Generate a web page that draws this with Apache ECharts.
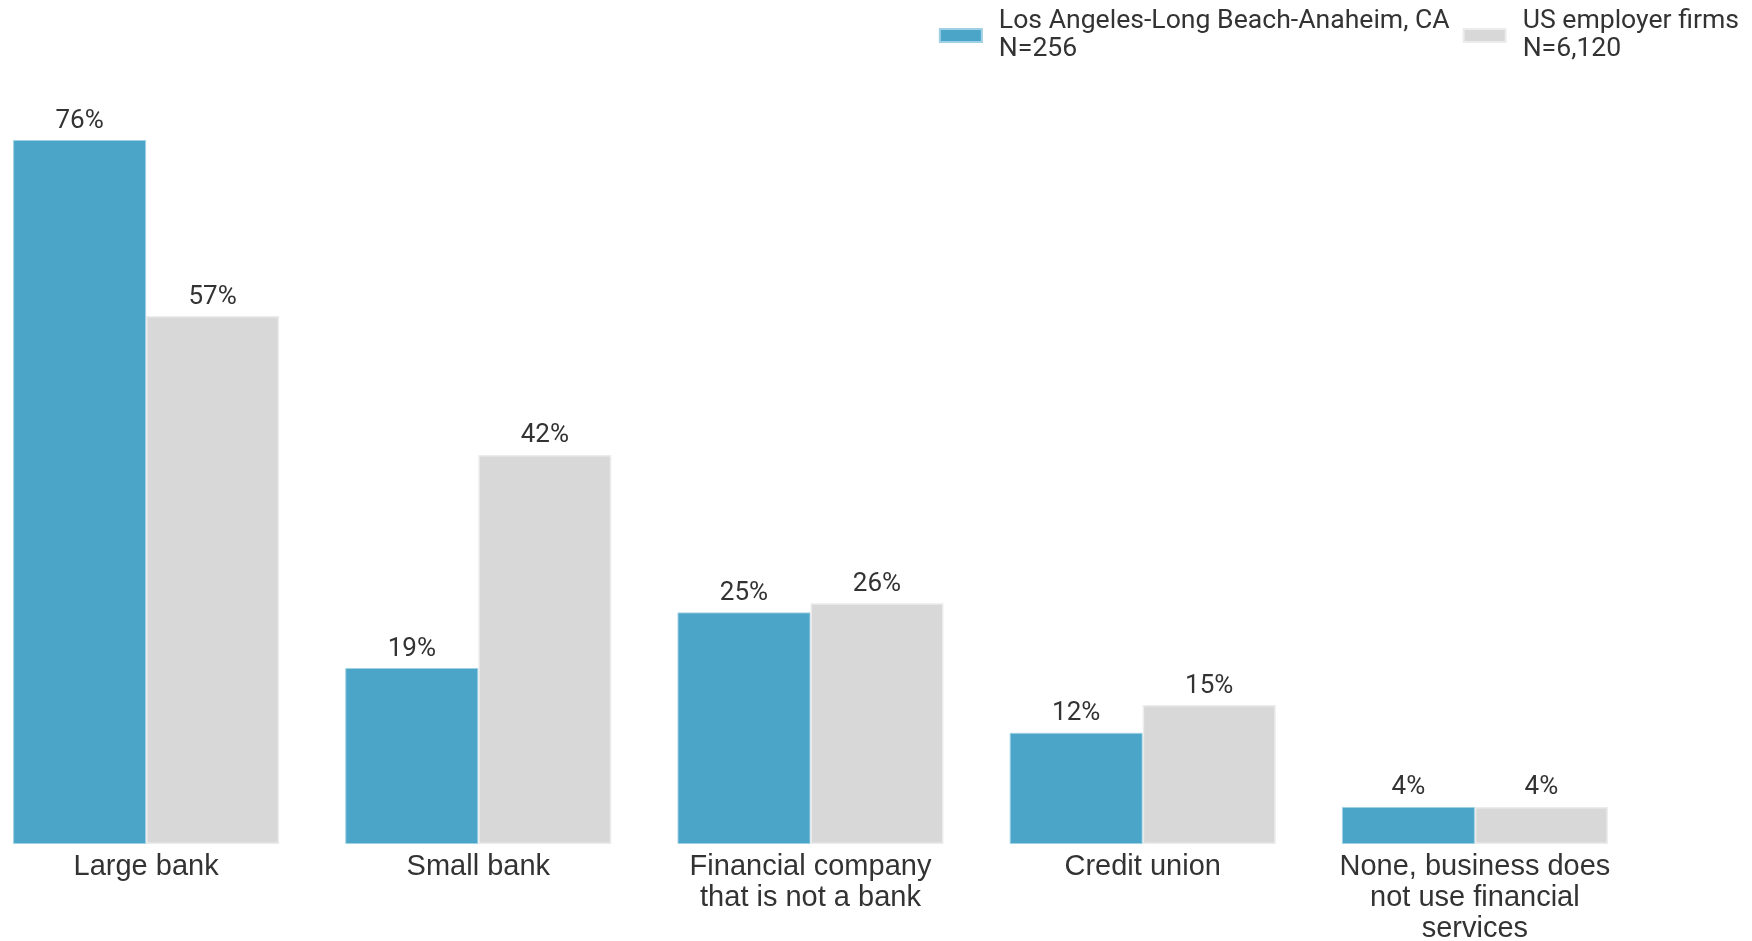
<!DOCTYPE html>
<html>
<head>
<meta charset="utf-8">
<script src="https://cdn.jsdelivr.net/npm/echarts@6/dist/echarts.min.js"></script>
<style>
html,body{margin:0;padding:0;background:#fff;}
#chart{width:1752px;height:941px;}
</style>
</head>
<body>
<div id="chart"></div>
<script>
const categories = ["Large bank", "Small bank", "Financial company\nthat is not a bank", "Credit union", "None, business does\nnot use financial\nservices"];
const seriesNames = ["Los Angeles-Long Beach-Anaheim, CA\nN=256", "US employer firms\nN=6,120"];
const laValues = [76, 19, 25, 12, 4];
const usValues = [57, 42, 26, 15, 4];
const colors = ["#4ba5c8", "#d8d8d8"];

const chart = echarts.init(document.getElementById('chart'), null, {renderer: 'canvas'});
const labelCfg = {
  show: true, position: 'top', distance: 6,
  formatter: p => p.value + '%',
  fontFamily: 'Roboto', fontSize: 26, color: '#333'
};
chart.setOption({
  animation: false,
  backgroundColor: '#fff',
  legend: {
    right: 8, top: 2,
    itemWidth: 42, itemHeight: 13, itemGap: 13,
    icon: 'rect',
    textStyle: { fontFamily: 'Roboto', fontSize: 26.6, color: '#333', lineHeight: 28.5, padding: [0, 0, 0, 12] },
    data: seriesNames
  },
  grid: { left: -20, right: 111, top: 140, bottom: 97, outerBoundsMode: 'none', containLabel: false },
  xAxis: {
    type: 'category', data: categories,
    axisLine: { show: false }, axisTick: { show: false },
    axisLabel: { fontFamily: 'Liberation Sans', fontSize: 29, color: '#333', lineHeight: 31, margin: 7, interval: 0 }
  },
  yAxis: { type: 'value', min: 0, max: 76, show: false, splitLine: { show: false } },
  series: [
    { name: seriesNames[0], type: 'bar', data: laValues, barWidth: 133, barGap: '0%',
      itemStyle: { color: colors[0], borderColor: '#9fd0e3', borderWidth: 1 }, label: labelCfg },
    { name: seriesNames[1], type: 'bar', data: usValues, barWidth: 133, barGap: '0%',
      itemStyle: { color: colors[1], borderColor: '#ececec', borderWidth: 1.5 }, label: labelCfg }
  ]
});
</script>
</body>
</html>
